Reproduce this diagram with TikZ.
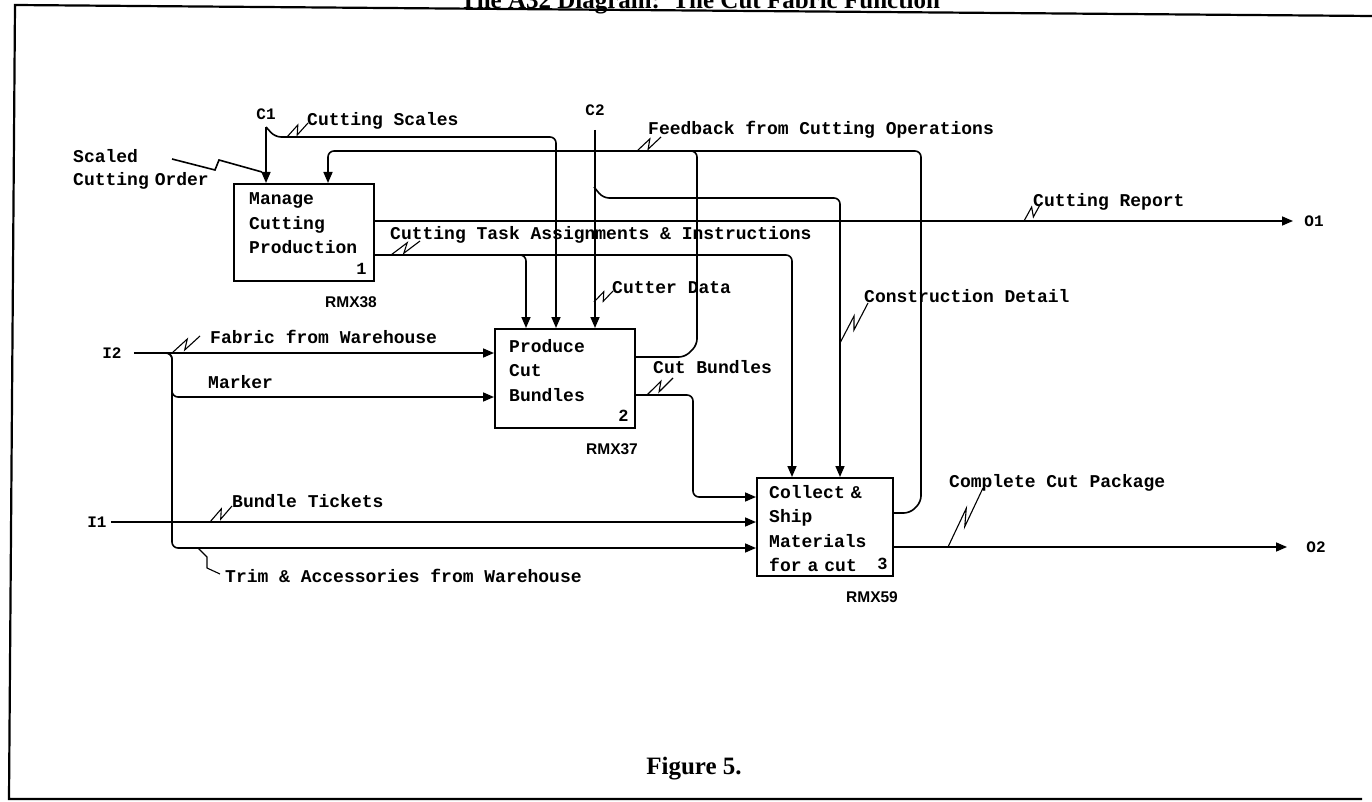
\documentclass[tikz,border=0pt]{standalone}
\usepackage{fontspec}
\setmainfont{Liberation Serif}
\setsansfont{Liberation Sans}
\setmonofont{Liberation Mono}
\usetikzlibrary{arrows.meta, calc, positioning}

\tikzset{
  flow/.style={line width=1.6pt, rounded corners=6pt},
  arr/.style={flow, -{Triangle[length=11pt,width=9pt]}},
  zap/.style={line width=1.1pt, to path={-- ($(\tikztostart)!.62!(\tikztotarget)!4pt!90:(\tikztotarget)$) -- ($(\tikztostart)!.38!(\tikztotarget)!4pt!-90:(\tikztotarget)$) -- (\tikztotarget)}},
  actbox/.style={draw, line width=1.8pt, anchor=north west, inner sep=0pt},
  acttxt/.style={font=\ttfamily\bfseries\fontsize{18}{24.5}\selectfont, text width=125pt, align=left, anchor=base west, inner sep=0pt},
  lbl/.style={font=\ttfamily\bfseries\fontsize{18}{24.5}\selectfont, anchor=base west, inner sep=0pt},
  icom/.style={font=\ttfamily\bfseries\fontsize{16}{18}\selectfont, inner sep=0pt},
  boxno/.style={font=\ttfamily\bfseries\fontsize{17}{20}\selectfont, anchor=base east, inner sep=0pt},
  nodeno/.style={font=\sffamily\bfseries\fontsize{15.5}{18}\selectfont, inner sep=0pt},
  caption/.style={font=\bfseries\fontsize{25}{30}\selectfont, anchor=base, inner sep=0pt}
}

\begin{document}
\begin{tikzpicture}[x=1pt, y=-1pt]
    \useasboundingbox (0,0) rectangle (1372,802);
    \clip (0,0) rectangle (1372,802);
    % Marc i titols
    \draw[line width=2.2pt] (1372,16) -- (15,5) -- (9,799) -- (1362,799);
    \node[caption] (title) at (700,9) {The A32 Diagram:\ \ The Cut Fabric Function};
    \node[caption] (fig) at (694,774) {Figure 5.};

    % Caixes d'activitat
    \node[actbox, minimum width=140, minimum height=97] (mcp) at (233,183) {};
    \node[actbox, minimum width=140, minimum height=99] (pcb) at (494,328) {};
    \node[actbox, minimum width=136, minimum height=98] (csm) at (756,477) {};
    \node[acttxt] (mcp-t) at ($(mcp.north west)+(16,22)$) {Manage\\Cutting\\Production};
    \node[acttxt] (pcb-t) at ($(pcb.north west)+(15,24)$) {Produce\\Cut\\Bundles};
    \node[acttxt] (csm-t) at ($(csm.north west)+(13,21)$) {Collect \&\\Ship\\Materials\\for a cut};
    \node[boxno] (mcp-n) at ($(mcp.south east)+(-8,-7)$) {1};
    \node[boxno] (pcb-n) at ($(pcb.south east)+(-7,-7)$) {2};
    \node[boxno] (csm-n) at ($(csm.south east)+(-6,-7)$) {3};
    \node[nodeno] (mcp-r) at (351,302) {RMX38};
    \node[nodeno] (pcb-r) at (612,449) {RMX37};
    \node[nodeno] (csm-r) at (872,597) {RMX59};

    % ICOM
    \node[icom] (c1) at (266,114) {C1};
    \node[icom] (c2) at (595,110) {C2};
    \node[icom] (i2) at (112,353) {I2};
    \node[icom] (i1) at (97,522) {I1};
    \node[icom] (o1) at (1314,221) {O1};
    \node[icom] (o2) at (1316,547) {O2};
    \coordinate (o1a) at (1293,221);
    \coordinate (o2a) at (1287,547);

    % Etiquetes de les fletxes
    \node[lbl, text width=150pt, align=left] (lsco) at (73,163) {Scaled\\[-1.5pt]Cutting Order};
    \node[lbl] (lscales) at (307,126) {Cutting Scales};
    \node[lbl] (lfeed) at (648,135) {Feedback from Cutting Operations};
    \node[lbl] (lrep) at (1033,207) {Cutting Report};
    \node[lbl] (ltask) at (390,240) {Cutting Task Assignments \& Instructions};
    \node[lbl] (lcdata) at (612,293) {Cutter Data};
    \node[lbl] (lcons) at (864,302) {Construction Detail};
    \node[lbl] (lfab) at (210,343) {Fabric from Warehouse};
    \node[lbl] (lmark) at (208,388) {Marker};
    \node[lbl] (lcutb) at (653,373) {Cut Bundles};
    \node[lbl] (ltick) at (232,507) {Bundle Tickets};
    \node[lbl] (ltrim) at (225,582) {Trim \& Accessories from Warehouse};
    \node[lbl] (lpack) at (949,487) {Complete Cut Package};

    % Controls
    \draw[line width=1.6pt] (172,159) -- (215,170) -- (219,160) -- (262,172);
    \draw[arr] (c1.south |- 0,127) -- (mcp.north -| c1.south);
    \draw[arr] (c1.south |- 0,127) -- (275,137) -- (556,137) -- (pcb.north -| 556,0);
    \draw[arr] (c2.south |- 0,130) -- (pcb.north -| c2.south);
    \draw[arr] (594,187) -- (603,198) -- (840,198) -- (csm.north -| 840,0);
    \draw[arr] (mcp.east |- 0,255) -- (792,255) -- (csm.north -| 792,0);
    \draw[arr] (514,255) -- (526,255) -- (pcb.north -| 526,0);
    % Retroalimentacio
    \draw[arr] (csm.east |- 0,513) -- (910,513) -- (921,502) -- (921,151) -- (328,151) -- (mcp.north -| 328,0);
    \draw[flow] (pcb.east |- 0,357) -- (685,357) -- (697,345) -- (697,151) -- (670,151);

    % Entrades
    \draw[arr] ([xshift=12pt]i2.east) -- (pcb.west |- i2);
    \draw[arr] (160,353) -- (172,353) -- (172,397) -- (pcb.west |- 0,397);
    \draw[arr] (160,353) -- (172,353) -- (172,548) -- (csm.west |- 0,548);
    \draw[arr] ([xshift=4pt]i1.east) -- (csm.west |- i1);
    \draw[arr] (pcb.east |- 0,395) -- (693,395) -- (693,497) -- (csm.west |- 0,497);

    % Sortides
    \draw[arr] (mcp.east |- o1a) -- (o1a);
    \draw[arr] (csm.east |- o2a) -- (o2a);

    % Llampecs
    \draw[zap] (287,137) to (308,123);
    \draw[zap] (637,151) to (661,137);
    \draw[zap] (1024,221) to (1041,203);
    \draw[zap] (391,255) to (420,241);
    \draw[zap] (594,302) to (613,291);
    \draw[zap] (840,343) to (868,303);
    \draw[zap] (172,353) to (200,336);
    \draw[zap] (647,395) to (673,378);
    \draw[zap] (210,522) to (232,506);
    \draw[zap] (948,547) to (983,488);
    \draw[line width=1.1pt] (198,548) -- (207,557) -- (207,568) -- (220,574);
\end{tikzpicture}
\end{document}
